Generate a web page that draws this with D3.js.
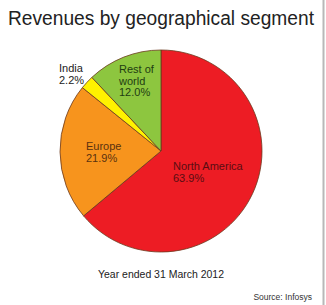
<!DOCTYPE html>
<html>
<head>
<meta charset="utf-8">
<script src="https://cdn.jsdelivr.net/npm/d3@7"></script>
<style>
body { margin: 0; background: #fff; }
</style>
</head>
<body>
<div id="viz"></div>
<script>
// regions and their share of revenue (%), clockwise from 12 o'clock
var regions = ["North America", "Europe", "India", "Rest of world"];
var shares = [63.9, 21.9, 2.2, 12.0];
var colours = ["#ed1c24", "#f7941d", "#fff200", "#8dc63f"];

var svg = d3.select("#viz")
    .append("svg")
    .attr("width", 326)
    .attr("height", 305);

svg.append("rect")
    .attr("width", 326).attr("height", 305)
    .attr("fill", "#fff");

// grey edge on the right
svg.append("line")
    .attr("x1", 323.5).attr("x2", 323.5)
    .attr("y1", 0).attr("y2", 305)
    .attr("stroke", "#b8b8b8")
    .attr("stroke-width", 2);

svg.append("text")
    .attr("x", 8)
    .attr("y", 25)
    .attr("font-family", "Liberation Sans, Arial, sans-serif")
    .attr("font-size", 19.5)
    .attr("fill", "#222")
    .attr("textLength", 306)
    .attr("lengthAdjust", "spacingAndGlyphs")
    .text("Revenues by geographical segment");

var data = regions.map(function(r, i) {
    return {region: r, share: shares[i], colour: colours[i]};
});

var pie = d3.pie()
    .sort(null)
    .value(function(d) { return d.share; });

var arc = d3.arc()
    .innerRadius(0)
    .outerRadius(101);

var g = svg.append("g")
    .attr("transform", "translate(161,151)");

g.selectAll("path")
    .data(pie(data))
    .enter()
    .append("path")
    .attr("d", arc)
    .attr("fill", function(d) { return d.data.colour; })
    .attr("stroke", "#6b3a1e")
    .attr("stroke-width", 0.8);

// label positions, one entry per region (text lines)
var labels = [
    {lines: ["North America", "63.9%"], x: 173, y: 170, fill: "#5a0d12"},
    {lines: ["Europe", "21.9%"], x: 86, y: 150, fill: "#5a3210"},
    {lines: ["India", "2.2%"], x: 59, y: 72, fill: "#222"},
    {lines: ["Rest of", "world", "12.0%"], x: 119, y: 73, fill: "#1f3d12"}
];

labels.forEach(function(l, i) {
    var t = svg.append("text")
        .attr("font-family", "Liberation Sans, Arial, sans-serif")
        .attr("font-size", 11)
        .attr("fill", l.fill);
    l.lines.forEach(function(s, j) {
        var txt = j === l.lines.length - 1 ? shares[i].toFixed(1) + "%" : s;
        t.append("tspan")
            .attr("x", l.x)
            .attr("y", l.y + j * 11.5)
            .text(txt);
    });
});

svg.append("text")
    .attr("x", 98)
    .attr("y", 278)
    .attr("font-family", "Liberation Sans, Arial, sans-serif")
    .attr("font-size", 11.5)
    .attr("fill", "#222")
    .attr("textLength", 126)
    .attr("lengthAdjust", "spacingAndGlyphs")
    .text("Year ended 31 March 2012");

svg.append("text")
    .attr("x", 312)
    .attr("y", 300)
    .attr("text-anchor", "end")
    .attr("font-family", "Liberation Sans, Arial, sans-serif")
    .attr("font-size", 8.5)
    .attr("fill", "#333")
    .text("Source: Infosys");
</script>
</body>
</html>
